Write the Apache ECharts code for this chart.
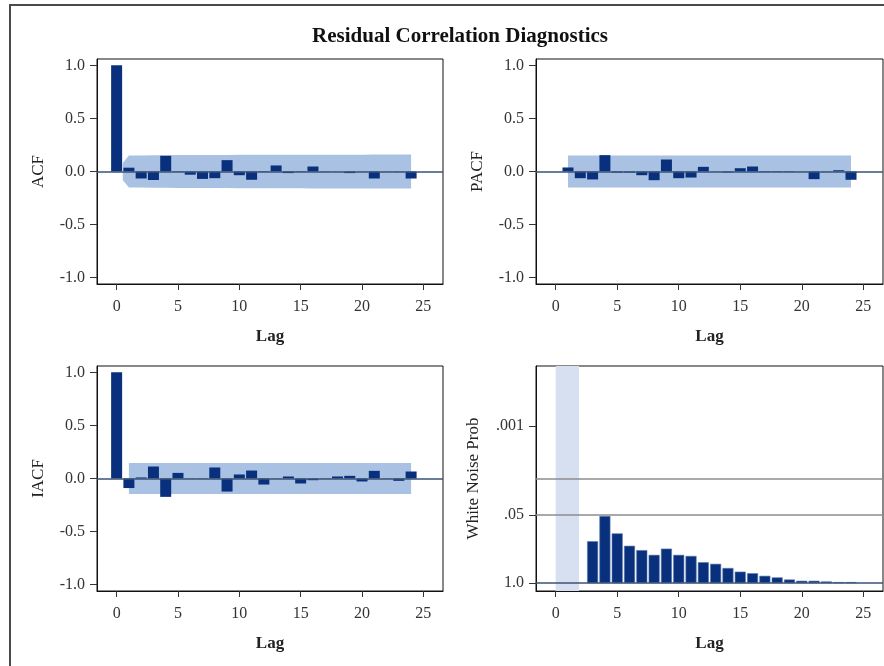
<!DOCTYPE html>
<html>
<head>
<meta charset="utf-8">
<script src="https://cdn.jsdelivr.net/npm/echarts@6/dist/echarts.min.js"></script>
<style>
  html, body { margin: 0; padding: 0; background: #fff; }
  #main { width: 884px; height: 666px; }
</style>
</head>
<body>
<div id="main"></div>
<script>
// lags 0..24
var lags = [0,1,2,3,4,5,6,7,8,9,10,11,12,13,14,15,16,17,18,19,20,21,22,23,24];
var acfVals = [1.0,0.036,-0.066,-0.08,0.148,0.004,-0.03,-0.07,-0.063,0.107,-0.035,-0.078,0.005,0.057,-0.015,0.005,0.047,-0.003,0.002,-0.015,0.002,-0.066,0.002,0.003,-0.066];
var pacfVals = [null,0.038,-0.063,-0.075,0.154,-0.01,-0.01,-0.035,-0.082,0.113,-0.063,-0.057,0.044,0.002,-0.008,0.031,0.047,-0.005,-0.005,-0.005,0.002,-0.072,0.002,0.012,-0.078];
var iacfVals = [1.0,-0.09,0.01,0.113,-0.173,0.053,0.002,0.003,0.104,-0.123,0.038,0.075,-0.057,0.002,0.019,-0.047,-0.016,-0.003,0.019,0.025,-0.028,0.072,0.002,-0.022,0.066];
// white noise test p-values, lags 3..24
var wnLags = [3,4,5,6,7,8,9,10,11,12,13,14,15,16,17,18,19,20,21,22,23,24];
var wnProb = [0.158,0.052,0.112,0.193,0.234,0.288,0.219,0.288,0.302,0.398,0.427,0.513,0.603,0.646,0.724,0.776,0.851,0.90,0.90,0.927,0.955,0.955];
// 2 std error bands
var acfBandLags = [0.5,1,2,3,4,5,6,7,8,9,10,11,12,13,14,15,16,17,18,19,20,21,22,23,24];
var acfBand = [0.08,0.150,0.151,0.152,0.153,0.155,0.155,0.156,0.156,0.156,0.157,0.157,0.158,0.158,0.158,0.158,0.159,0.159,0.159,0.159,0.159,0.160,0.160,0.160,0.160];
var pacfBand = 0.15;
var iacfBand = 0.146;
var xTicks = [0,5,10,15,20,25];
var corrTicks = [-1,-0.5,0,0.5,1];
var wnTickProbs = [1.0,0.05,0.001];
var wnTickLabels = ['1.0','.05','.001'];
var wnRefProbs = [0.05,0.01];

var navy = '#08307d';
var bandBlue = '#a9c1e3';
var serif = 'Liberation Serif';

function nlog(p) { return -Math.log10(p); }

var grids = [
  {left: 97, top: 59, width: 346, height: 225},
  {left: 536, top: 59, width: 347, height: 225},
  {left: 97, top: 366, width: 346, height: 225},
  {left: 536, top: 366, width: 347, height: 225}
];
grids.forEach(function (g) {
  g.show = true; g.borderColor = '#111'; g.borderWidth = 1; g.backgroundColor = '#fff';
});

function xAxisFor(i) {
  return {
    type: 'value', gridIndex: i, min: -1.6, max: 26.6,
    name: 'Lag', nameLocation: 'middle', nameGap: 44,
    nameTextStyle: {fontFamily: serif, fontSize: 17, fontWeight: 'bold', color: '#222'},
    axisLine: {show: true, onZero: false, lineStyle: {color: '#111'}},
    axisTick: {show: true, length: 6, customValues: xTicks, lineStyle: {color: '#333'}},
    axisLabel: {customValues: xTicks, fontFamily: serif, fontSize: 16, color: '#333', margin: 15},
    splitLine: {show: false}
  };
}
function corrY(i, name) {
  return {
    type: 'value', gridIndex: i, min: -1.06, max: 1.06,
    name: name, nameLocation: 'middle', nameGap: 50,
    nameTextStyle: {fontFamily: serif, fontSize: 17, color: '#222'},
    axisLine: {show: true, onZero: false, lineStyle: {color: '#111'}},
    axisTick: {show: true, length: 7, customValues: corrTicks, lineStyle: {color: '#333'}},
    axisLabel: {customValues: corrTicks, fontFamily: serif, fontSize: 16, color: '#333', margin: 12,
      formatter: function (v) { return v.toFixed(1); }},
    splitLine: {show: false}
  };
}

var wnTickVals = wnTickProbs.map(nlog).map(function (v) { return Math.abs(v) < 1e-9 ? 0 : v; });

var yAxes = [corrY(0, 'ACF'), corrY(1, 'PACF'), corrY(2, 'IACF'), {
  type: 'value', gridIndex: 3, min: -0.15, max: 4.15,
  name: 'White Noise Prob', nameLocation: 'middle', nameGap: 54,
  nameTextStyle: {fontFamily: serif, fontSize: 17, color: '#222'},
  axisLine: {show: true, onZero: false, lineStyle: {color: '#111'}},
  axisTick: {show: true, length: 7, customValues: wnTickVals, lineStyle: {color: '#333'}},
  axisLabel: {customValues: wnTickVals, fontFamily: serif, fontSize: 16, color: '#333', margin: 12,
    formatter: function (v) {
      for (var k = 0; k < wnTickVals.length; k++) {
        if (Math.abs(v - wnTickVals[k]) < 1e-6) return wnTickLabels[k];
      }
      return '';
    }},
  splitLine: {show: false}
}];

var zeroLine = {
  silent: true, symbol: 'none', label: {show: false},
  lineStyle: {color: '#3b5275', width: 1.5, type: 'solid'},
  data: [{yAxis: 0}]
};

function bandSeries(i, xs, ups, lows) {
  var up = xs.map(function (x, k) { return [x, ups[k]]; });
  var lo = xs.map(function (x, k) { return [x, lows[k]]; });
  var base = {type: 'line', xAxisIndex: i, yAxisIndex: i, symbol: 'none', silent: true, z: 1,
    lineStyle: {width: 0}, areaStyle: {color: bandBlue, opacity: 1}};
  return [Object.assign({data: up}, base), Object.assign({data: lo}, base)];
}
function barSeries(i, vals) {
  var d = [];
  lags.forEach(function (l, k) { if (vals[k] != null) d.push([l, vals[k]]); });
  return {type: 'bar', xAxisIndex: i, yAxisIndex: i, data: d, barWidth: 11, z: 3,
    itemStyle: {color: navy}, markLine: zeroLine};
}

var series = [];
// ACF
series = series.concat(bandSeries(0, acfBandLags, acfBand, acfBand.map(function (v) { return -v; })));
series.push(barSeries(0, acfVals));
// PACF
series = series.concat(bandSeries(1, [1, 24], [pacfBand, pacfBand], [-pacfBand, -pacfBand]));
series.push(barSeries(1, pacfVals));
// IACF
series = series.concat(bandSeries(2, [1, 24], [iacfBand, iacfBand], [-iacfBand, -iacfBand]));
series.push(barSeries(2, iacfVals));
// White noise
series.push({
  type: 'bar', xAxisIndex: 3, yAxisIndex: 3, barWidth: 11, z: 3,
  data: wnLags.map(function (l, k) { return [l, nlog(wnProb[k])]; }),
  itemStyle: {color: navy, borderColor: '#5a78b0', borderWidth: 0.6},
  markArea: {silent: true, itemStyle: {color: '#d6e0f0'}, data: [[{xAxis: 0}, {xAxis: 1.9}]]},
  markLine: {
    silent: true, symbol: 'none', label: {show: false},
    data: wnRefProbs.map(function (p) { return {yAxis: nlog(p), lineStyle: {color: '#8c8c8c', width: 1.5, type: 'solid'}}; })
      .concat([{yAxis: 0, lineStyle: {color: '#3b5275', width: 1.5, type: 'solid'}}])
  }
});

var option = {
  backgroundColor: '#fff',
  animation: false,
  title: {
    text: 'Residual Correlation Diagnostics', left: 455, top: 21, textAlign: 'center',
    textStyle: {fontFamily: serif, fontSize: 21, fontWeight: 'bold', color: '#111'}
  },
  graphic: [{
    type: 'rect', shape: {x: 10, y: 5, width: 900, height: 700},
    style: {fill: null, stroke: '#4a4a4a', lineWidth: 2}, silent: true, z: 100
  }],
  grid: grids,
  xAxis: [xAxisFor(0), xAxisFor(1), xAxisFor(2), xAxisFor(3)],
  yAxis: yAxes,
  series: series
};

var myChart = echarts.init(document.getElementById('main'));
myChart.setOption(option);
</script>
</body>
</html>
